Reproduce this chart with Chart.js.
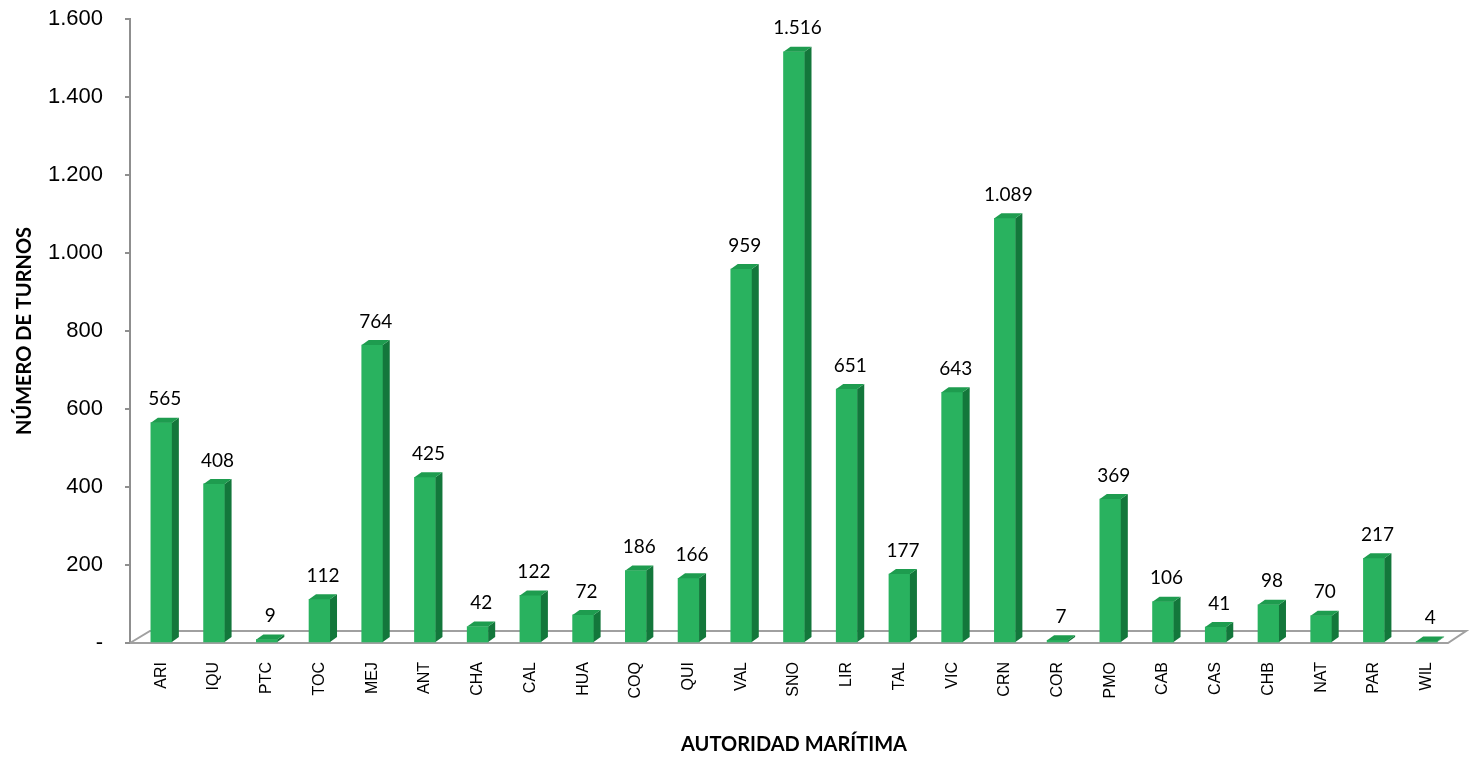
<!DOCTYPE html>
<html>
<head>
<meta charset="utf-8">
<script src="https://cdn.jsdelivr.net/npm/chart.js@4.4.1/dist/chart.umd.min.js"></script>
<style>
  html, body { margin: 0; padding: 0; background: #fff; }
  #wrap { width: 1469px; height: 757px; }
</style>
</head>
<body>
<div id="wrap"><canvas id="turnos"></canvas></div>
<script>
'use strict';

// Autoridades maritimas (eje X)
var categorias = ['ARI', 'IQU', 'PTC', 'TOC', 'MEJ', 'ANT', 'CHA', 'CAL', 'HUA', 'COQ',
    'QUI', 'VAL', 'SNO', 'LIR', 'TAL', 'VIC', 'CRN', 'COR', 'PMO', 'CAB',
    'CAS', 'CHB', 'NAT', 'PAR', 'WIL'];

// Numero de turnos por autoridad
var turnos = [565, 408, 9, 112, 764, 425, 42, 122, 72, 186,
    166, 959, 1516, 651, 177, 643, 1089, 7, 369, 106,
    41, 98, 70, 217, 4];

// Marcas del eje Y
var ticksY = [0, 200, 400, 600, 800, 1000, 1200, 1400, 1600];

var verde = '#29b25f',
    verdeLado = '#13773b',
    verdeTapa = '#1e9c4f',
    gris = '#8f8f8f',
    DX = 7,
    DY = 5;

function miles(v) {
    if (v === 0) return '-';
    return String(v).replace(/\B(?=(\d{3})+(?!\d))/g, '.');
}

// las barras quedan un poco corridas respecto a la pared del eje Y
var corrimiento = {
    id: 'corrimiento',
    afterLayout: function(chart) {
        var x = chart.scales.x;
        x.left += 5;
        x.right += 5;
        x.configure();
    }
};

// piso 3D bajo las barras
var piso = {
    id: 'piso',
    beforeDatasetsDraw: function(chart) {
        var ctx = chart.ctx,
            a = chart.chartArea,
            y0 = chart.scales.y.getPixelForValue(0);

        ctx.save();
        ctx.strokeStyle = '#a0a0a0';
        ctx.lineWidth = 2;
        ctx.beginPath();
        ctx.moveTo(a.left, y0);
        ctx.lineTo(a.right, y0);
        ctx.lineTo(a.right + 18, y0 - 12);
        ctx.lineTo(a.left + 20, y0 - 12);
        ctx.lineTo(a.left, y0);
        ctx.stroke();
        ctx.restore();
    }
};

// caras laterales, tapas y etiquetas de valor
var barras3d = {
    id: 'barras3d',
    afterDatasetsDraw: function(chart) {
        var ctx = chart.ctx,
            meta = chart.getDatasetMeta(0);

        ctx.save();
        meta.data.forEach(function(bar, i) {
            var p = bar.getProps(['x', 'y', 'base', 'width'], true),
                l = p.x - p.width / 2,
                r = p.x + p.width / 2;

            ctx.fillStyle = verdeLado;
            ctx.beginPath();
            ctx.moveTo(r, p.y);
            ctx.lineTo(r + DX, p.y - DY);
            ctx.lineTo(r + DX, p.base - DY);
            ctx.lineTo(r, p.base);
            ctx.closePath();
            ctx.fill();

            ctx.fillStyle = verdeTapa;
            ctx.beginPath();
            ctx.moveTo(l, p.y);
            ctx.lineTo(l + DX, p.y - DY);
            ctx.lineTo(r + DX, p.y - DY);
            ctx.lineTo(r, p.y);
            ctx.closePath();
            ctx.fill();

            ctx.fillStyle = '#000';
            ctx.font = '19px Lato, "Open Sans", sans-serif';
            ctx.textAlign = 'center';
            ctx.textBaseline = 'bottom';
            ctx.fillText(miles(turnos[i]), p.x + DX / 2, p.y - DY - 9);
        });
        ctx.restore();
    }
};

var ctx = document.getElementById('turnos').getContext('2d');

new Chart(ctx, {
    type: 'bar',
    data: {
        labels: categorias,
        datasets: [{
            data: turnos,
            backgroundColor: verde,
            borderWidth: 0,
            barThickness: 21
        }]
    },
    options: {
        responsive: true,
        maintainAspectRatio: false,
        animation: false,
        layout: {
            padding: { top: 19, right: 21, bottom: 0, left: 0 }
        },
        plugins: {
            legend: { display: false },
            tooltip: { enabled: false }
        },
        scales: {
            x: {
                grid: { display: false, drawTicks: false },
                border: { display: false },
                ticks: {
                    autoSkip: false,
                    minRotation: 90,
                    maxRotation: 90,
                    padding: 19,
                    color: '#000',
                    font: { family: 'Liberation Sans', size: 16 }
                },
                title: {
                    display: true,
                    text: 'AUTORIDAD MARÍTIMA',
                    color: '#000',
                    padding: { top: 3, bottom: 0 },
                    font: { family: 'Lato', size: 20, weight: 'bold' }
                },
                afterFit: function(scale) { scale.height = 114; }
            },
            y: {
                min: 0,
                max: 1600,
                afterBuildTicks: function(scale) {
                    scale.ticks = ticksY.map(function(v) { return { value: v }; });
                },
                grid: {
                    drawOnChartArea: false,
                    drawTicks: true,
                    tickLength: 5,
                    color: gris,
                    lineWidth: 2
                },
                border: { display: true, color: gris, width: 2 },
                ticks: {
                    padding: 22,
                    color: '#000',
                    font: { family: 'Liberation Sans', size: 22 },
                    callback: function(v) { return miles(v); }
                },
                title: {
                    display: true,
                    text: 'NÚMERO DE TURNOS',
                    color: '#000',
                    padding: { top: 13, bottom: 0 },
                    font: { family: 'Lato', size: 20, weight: 'bold' }
                },
                afterFit: function(scale) {
                    scale.width = 130;
                    scale.paddingTop = 0;
                    scale.paddingBottom = 0;
                }
            }
        }
    },
    plugins: [corrimiento, piso, barras3d]
});
</script>
</body>
</html>
